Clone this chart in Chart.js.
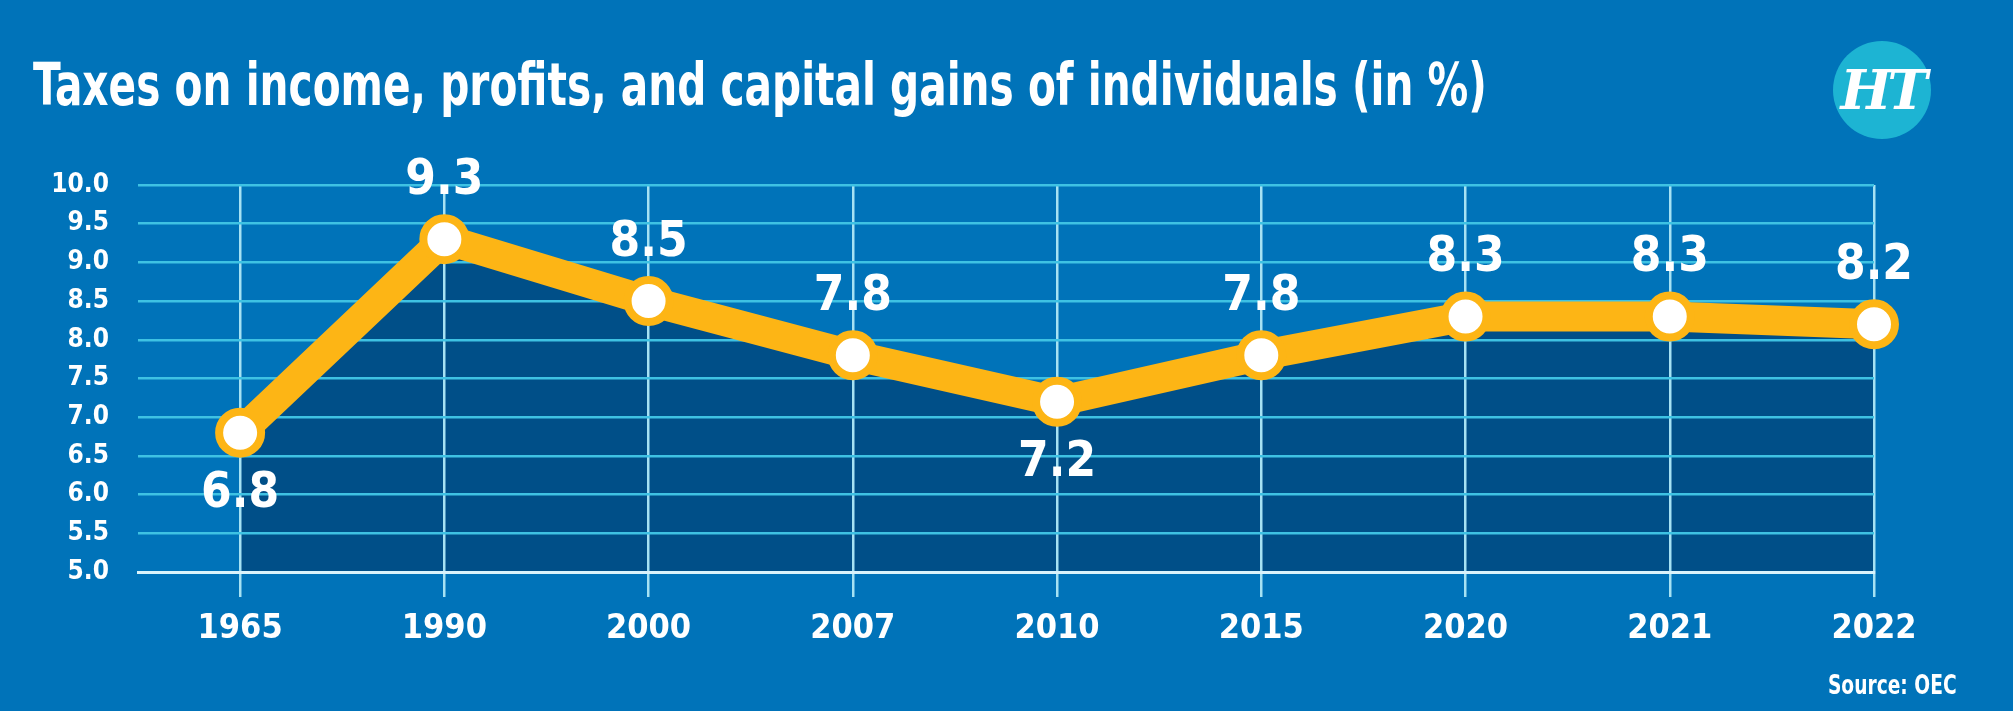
<!DOCTYPE html>
<html lang="en">
<head>
    <meta charset="UTF-8">
    <title>Taxes on income, profits, and capital gains of individuals</title>
    <script src="https://cdn.jsdelivr.net/npm/chart.js"></script>
    <style>
        body {
            margin: 0;
            width: 2013px;
            height: 711px;
            overflow: hidden;
            background-color: #0073b9;
            position: relative;
            font-family: 'Liberation Sans Narrow', 'DejaVu Sans Condensed', 'Roboto Condensed', Roboto, sans-serif;
            font-weight: bold;
            color: #fff;
        }
        #title {
            position: absolute;
            left: 33px;
            top: 56px;
            font-size: 58px;
            line-height: 1;
            white-space: nowrap;
            transform-origin: 0 0;
        }
        #logo {
            position: absolute;
            left: 1833px;
            top: 41px;
            width: 98px;
            height: 98px;
            border-radius: 50%;
            background: #1db4d3;
            text-align: center;
            line-height: 98px;
            font-family: 'DejaVu Serif', serif;
            font-style: italic;
            font-size: 54px;
            letter-spacing: -4px;
        }
        #source {
            position: absolute;
            right: 56px;
            top: 671px;
            font-size: 27px;
            line-height: 1;
            white-space: nowrap;
            transform-origin: 100% 0;
        }
        #chart {
            position: absolute;
            left: 0;
            top: 0;
        }
    </style>
</head>
<body>
    <canvas id="chart" width="2013" height="711"></canvas>
    <div id="title">Taxes on income, profits, and capital gains of individuals (in %)</div>
    <div id="logo">HT</div>
    <div id="source">Source: OEC</div>

    <script>
        // data
        const years = ['1965', '1990', '2000', '2007', '2010', '2015', '2020', '2021', '2022'];
        const taxShare = [6.8, 9.3, 8.5, 7.8, 7.2, 7.8, 8.3, 8.3, 8.2];
        const yMin = 5;
        const yMax = 10;
        const yStep = 0.5;

        const FONT = "'Liberation Sans Narrow', 'DejaVu Sans Condensed', 'Roboto Condensed', Roboto, sans-serif";

        // squeeze title and source to the widths they have in the original
        const title = document.getElementById('title');
        title.style.transform = 'scaleX(' + (1454 / title.offsetWidth) + ')';
        const source = document.getElementById('source');
        source.style.transform = 'scaleX(' + (129 / source.offsetWidth) + ')';

        // values under the point for the two dips, above for the rest
        const valueLabels = {
            id: 'valueLabels',
            afterDatasetsDraw(chart, args, opts) {
                const ctx = chart.ctx;
                const meta = chart.getDatasetMeta(0);
                ctx.save();
                ctx.font = 'bold 49px ' + FONT;
                ctx.fillStyle = '#fff';
                ctx.textAlign = 'center';
                ctx.textBaseline = 'middle';
                meta.data.forEach((pt, i) => {
                    const below = opts.below.includes(i);
                    const y = below ? pt.y + 62 : pt.y - 58;
                    ctx.fillText(taxShare[i].toFixed(1), pt.x, y);
                });
                ctx.restore();
            }
        };

        Chart.defaults.font.family = FONT;
        Chart.defaults.font.weight = 'bold';
        Chart.defaults.color = '#fff';

        const ctx = document.getElementById('chart').getContext('2d');
        new Chart(ctx, {
            type: 'line',
            data: {
                datasets: [{
                    data: taxShare.map((v, i) => ({ x: i, y: v })),
                    borderColor: '#fdb515',
                    borderWidth: 30,
                    borderCapStyle: 'round',
                    borderJoinStyle: 'round',
                    fill: 'start',
                    backgroundColor: '#004f88',
                    pointRadius: 21,
                    pointBorderWidth: 8,
                    pointBackgroundColor: '#fff',
                    pointBorderColor: '#fdb515',
                    tension: 0,
                    clip: false
                }]
            },
            options: {
                responsive: false,
                animation: false,
                layout: { padding: { left: 0, right: 139, top: 185, bottom: 0 } },
                plugins: {
                    legend: { display: false },
                    tooltip: { enabled: false },
                    // fill under the grid, line over it
                    filler: { drawTime: 'beforeDraw' },
                    valueLabels: { below: [0, 4] }
                },
                scales: {
                    x: {
                        type: 'linear',
                        min: -0.5,
                        max: years.length - 1,
                        afterBuildTicks: s => { s.ticks = years.map((_, i) => ({ value: i })); },
                        afterFit: s => { s.height = 139; },
                        grid: {
                            color: '#a6e2f3',
                            lineWidth: 2.5,
                            tickLength: 25
                        },
                        border: { color: '#d9f3fb', width: 3 },
                        ticks: {
                            callback: v => years[v],
                            font: { size: 34, weight: 'bold' },
                            padding: 12,
                            maxRotation: 0,
                            autoSkip: false
                        }
                    },
                    y: {
                        min: yMin,
                        max: yMax,
                        afterFit: s => { s.width = 138; },
                        grid: {
                            color: '#3ec2e3',
                            lineWidth: 2.5,
                            drawTicks: false
                        },
                        border: { display: false },
                        ticks: {
                            stepSize: yStep,
                            callback: v => v.toFixed(1),
                            font: { size: 26, weight: 'bold' },
                            padding: 29
                        }
                    }
                }
            },
            plugins: [valueLabels]
        });
    </script>
</body>
</html>
